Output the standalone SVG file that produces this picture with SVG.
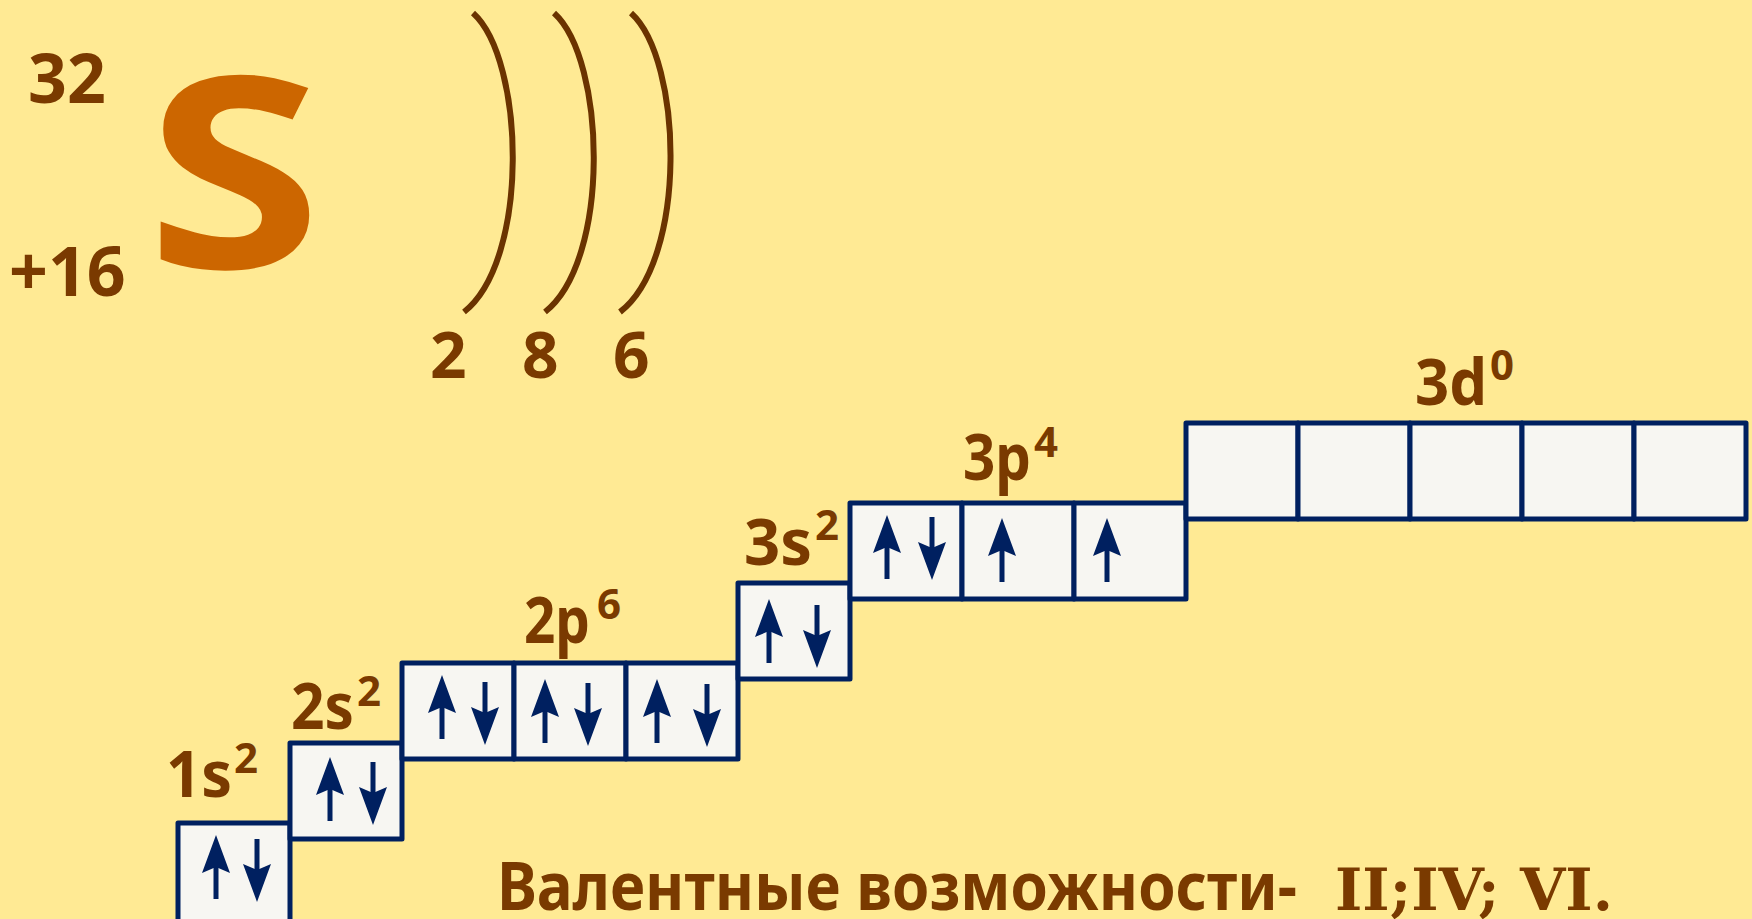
<svg xmlns="http://www.w3.org/2000/svg" xmlns:xlink="http://www.w3.org/1999/xlink" width="1752" height="919" viewBox="0 0 1752 919">
<style>
.t{font-family:"Noto Sans","DejaVu Sans",sans-serif;font-weight:bold;fill:#7A3A00}
.big{font-size:64px}
.sup{font-size:42px}
.cell{fill:#F7F6F2;stroke:#002060;stroke-width:5;stroke-linejoin:round}
.shell{fill:none;stroke:#6B3300;stroke-width:6}
.rom{font-family:"DejaVu Serif","Liberation Serif",serif;font-weight:bold;fill:#7A3A00}
</style>
<defs>
<g id="up"><rect x="-2.5" y="28" width="5" height="36" fill="#002060"/><path d="M0,0 L14,38 L0,32 L-14,38 Z" fill="#002060"/></g>
<g id="dn"><rect x="-2.5" y="0" width="5" height="36" fill="#002060"/><path d="M0,63 L14,25 L0,31 L-14,25 Z" fill="#002060"/></g>
</defs>
<rect width="1752" height="919" fill="#FFEA94"/>

<g id="element">
<text class="t" x="28" y="103" font-size="68">32</text>
<text class="t" x="9" y="296" font-size="68">+16</text>
<text x="146" y="268" font-family="Noto Sans,DejaVu Sans,sans-serif" font-weight="bold" font-size="267" fill="#CC6600" textLength="176" lengthAdjust="spacingAndGlyphs">S</text>
</g>

<g id="shells">
<path class="shell" d="M473,13 C525,60 530,260 464,312"/>
<path class="shell" d="M554,13 C606,60 611,260 545,312"/>
<path class="shell" d="M631,13 C683,60 688,260 620,312"/>
<text class="t" x="430" y="378" font-size="64">2</text>
<text class="t" x="522" y="378" font-size="64">8</text>
<text class="t" x="613" y="378" font-size="64">6</text>
</g>

<g id="orbital-1s">
<rect class="cell" x="178" y="823" width="112" height="100"/>
<use xlink:href="#up" x="216" y="835"/>
<use xlink:href="#dn" x="257" y="839"/>
<text class="t big" x="166" y="797" textLength="66" lengthAdjust="spacingAndGlyphs">1s</text>
<text class="t sup" x="234" y="773">2</text>
</g>

<g id="orbital-2s">
<rect class="cell" x="290" y="743" width="112" height="96"/>
<use xlink:href="#up" x="330" y="757"/>
<use xlink:href="#dn" x="373" y="762"/>
<text class="t big" x="291" y="729" textLength="63" lengthAdjust="spacingAndGlyphs">2s</text>
<text class="t sup" x="357" y="706">2</text>
</g>

<g id="orbital-2p">
<rect class="cell" x="402" y="663" width="112" height="96"/>
<rect class="cell" x="514" y="663" width="112" height="96"/>
<rect class="cell" x="626" y="663" width="112" height="96"/>
<use xlink:href="#up" x="442" y="675"/>
<use xlink:href="#dn" x="485" y="682"/>
<use xlink:href="#up" x="545" y="679"/>
<use xlink:href="#dn" x="588" y="683"/>
<use xlink:href="#up" x="657" y="679"/>
<use xlink:href="#dn" x="707" y="684"/>
<text class="t big" x="524" y="643" textLength="66" lengthAdjust="spacingAndGlyphs">2p</text>
<text class="t sup" x="597" y="619">6</text>
</g>

<g id="orbital-3s">
<rect class="cell" x="738" y="583" width="112" height="96"/>
<use xlink:href="#up" x="769" y="599"/>
<use xlink:href="#dn" x="817" y="605"/>
<text class="t big" x="744" y="565" textLength="68" lengthAdjust="spacingAndGlyphs">3s</text>
<text class="t sup" x="815" y="540">2</text>
</g>

<g id="orbital-3p">
<rect class="cell" x="850" y="503" width="112" height="96"/>
<rect class="cell" x="962" y="503" width="112" height="96"/>
<rect class="cell" x="1074" y="503" width="112" height="96"/>
<use xlink:href="#up" x="887" y="515"/>
<use xlink:href="#dn" x="932" y="517"/>
<use xlink:href="#up" x="1002" y="518"/>
<use xlink:href="#up" x="1107" y="518"/>
<text class="t big" x="963" y="480" textLength="68" lengthAdjust="spacingAndGlyphs">3p</text>
<text class="t sup" x="1034" y="457">4</text>
</g>

<g id="orbital-3d">
<rect class="cell" x="1186" y="423" width="112" height="96"/>
<rect class="cell" x="1298" y="423" width="112" height="96"/>
<rect class="cell" x="1410" y="423" width="112" height="96"/>
<rect class="cell" x="1522" y="423" width="112" height="96"/>
<rect class="cell" x="1634" y="423" width="112" height="96"/>
<text class="t big" x="1415" y="405" textLength="72" lengthAdjust="spacingAndGlyphs">3d</text>
<text class="t sup" x="1490" y="380">0</text>
</g>

<g id="valence">
<text class="t" x="497" y="910" font-size="67" textLength="800" lengthAdjust="spacingAndGlyphs">Валентные возможности-</text>
<text class="rom" x="1335" y="910" font-size="58" textLength="278" lengthAdjust="spacingAndGlyphs">II;IV; VI.</text>
</g>
</svg>
